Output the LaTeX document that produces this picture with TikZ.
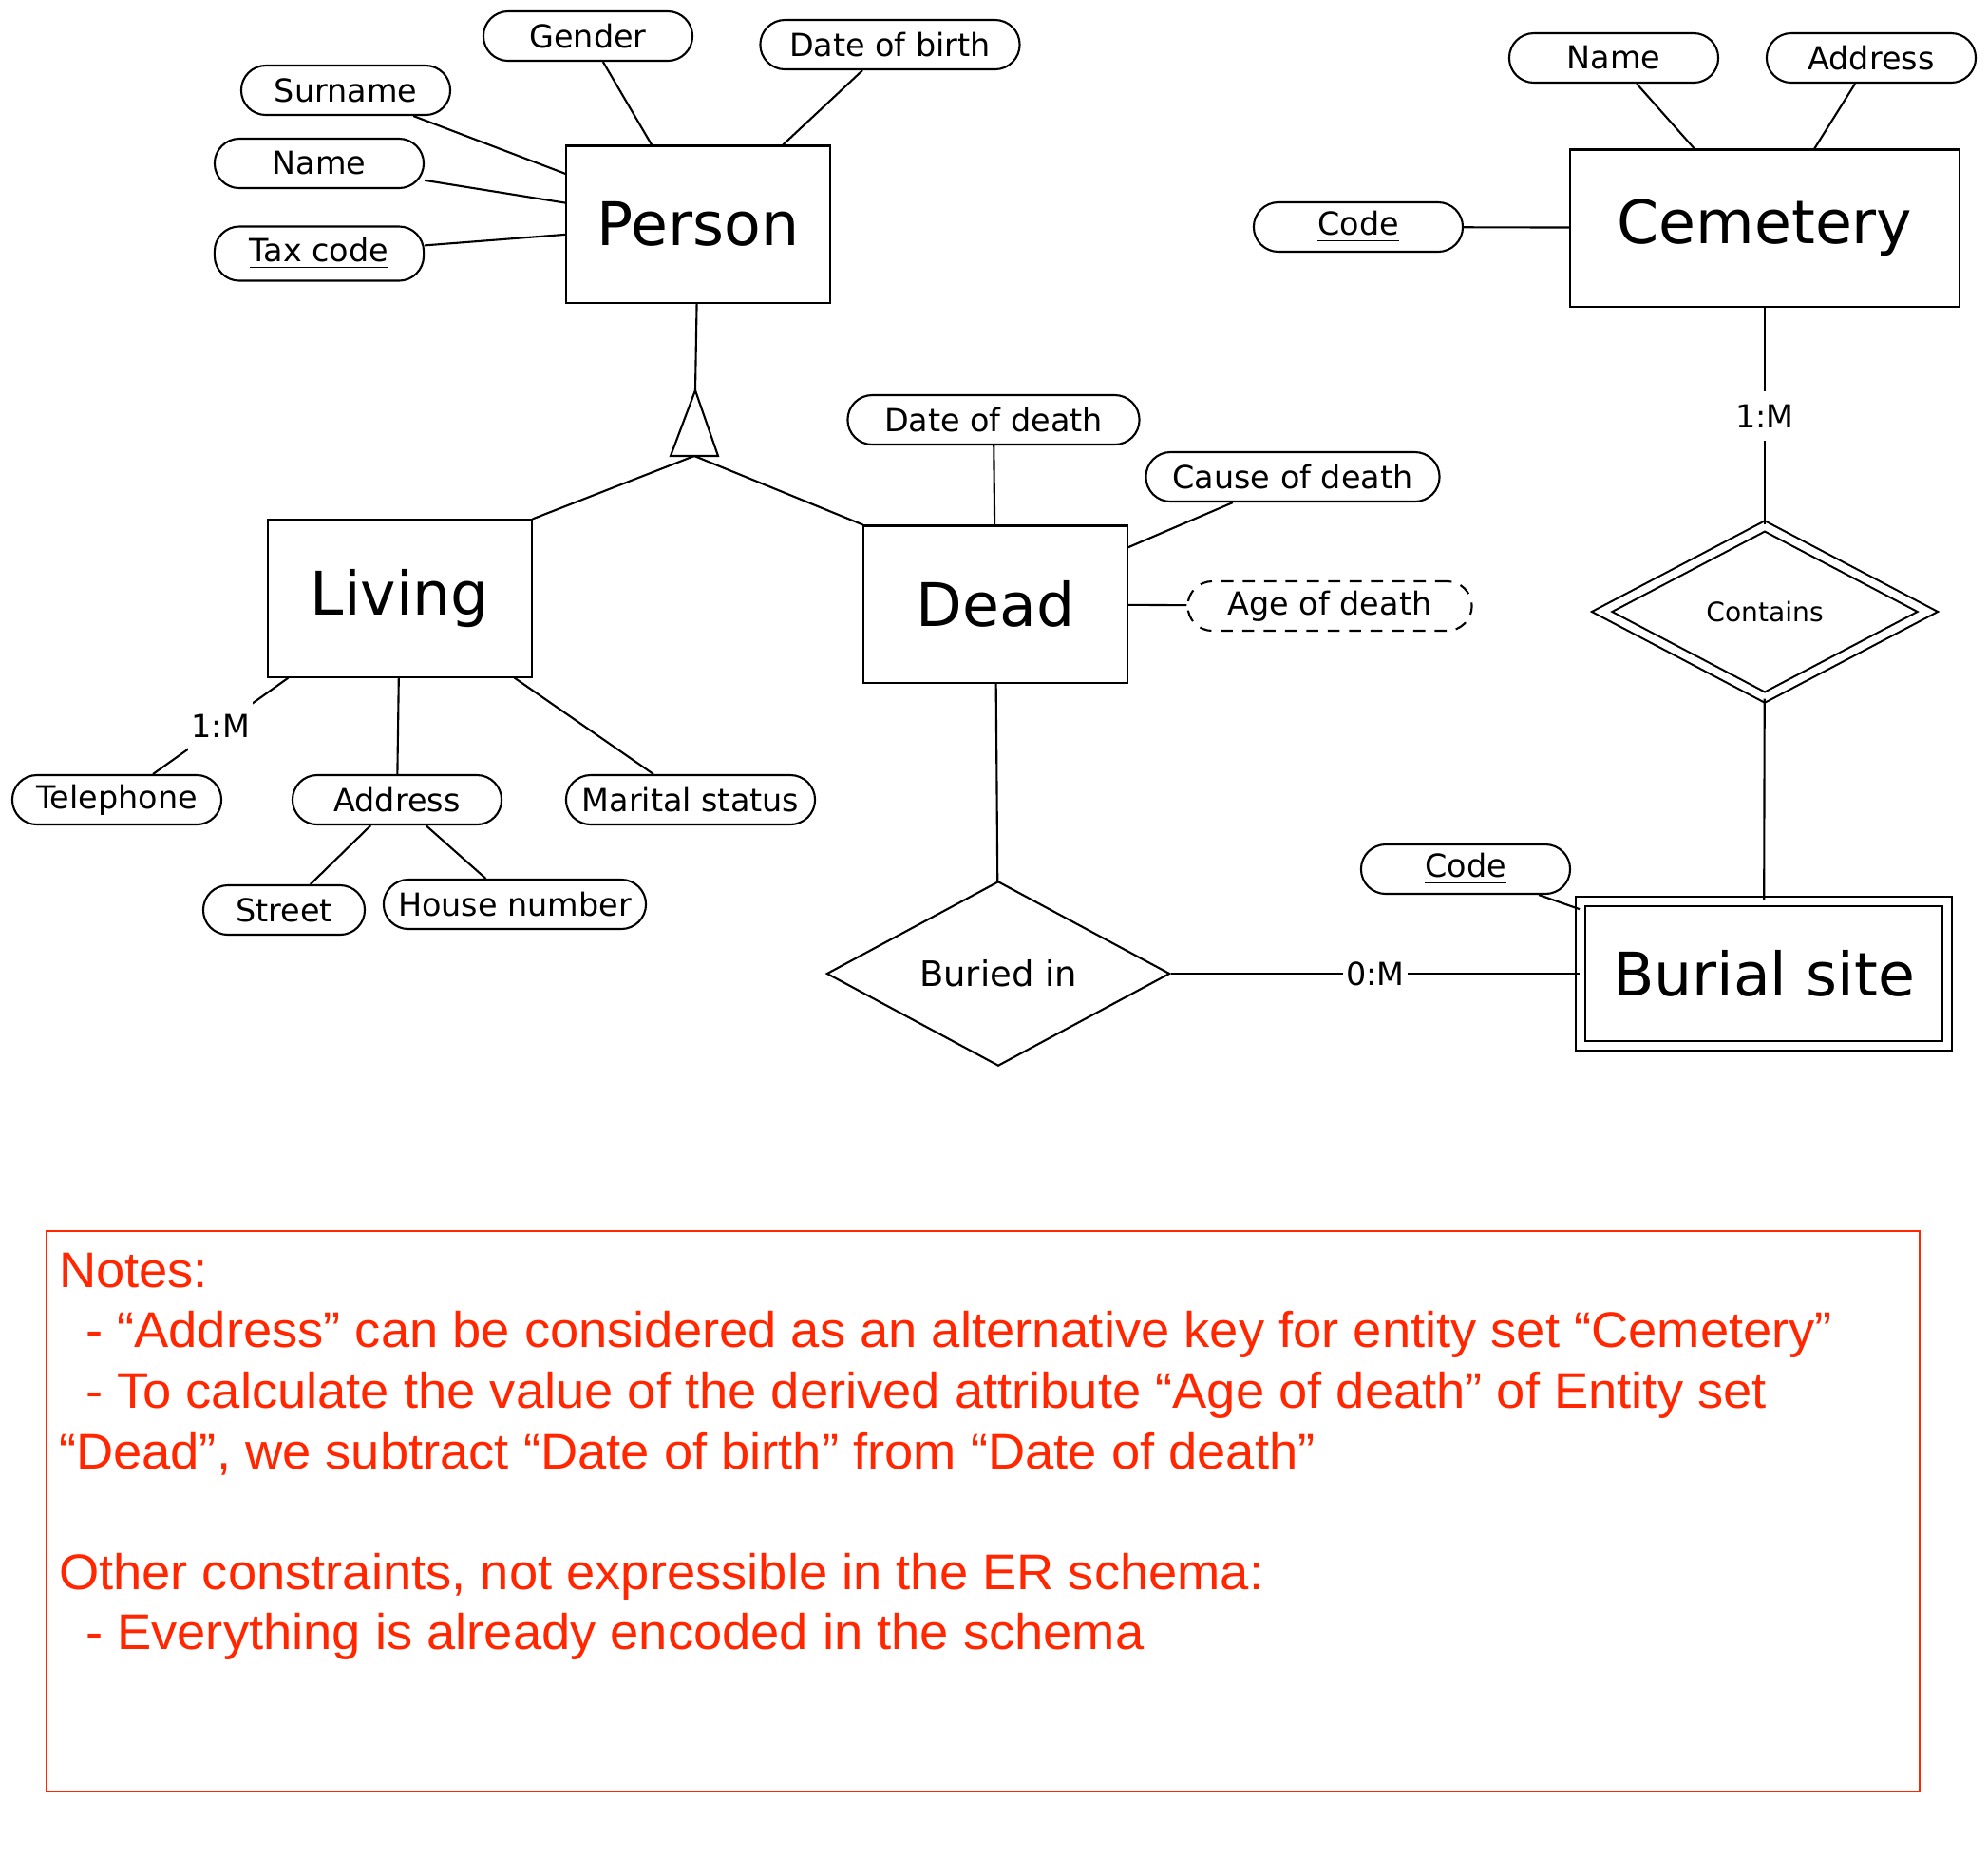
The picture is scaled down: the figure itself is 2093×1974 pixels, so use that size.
\documentclass[tikz,border=0pt]{standalone}
\usepackage{fontspec}
\setmainfont{DejaVu Sans}
\newfontfamily\notefont[FakeStretch=1.03]{Liberation Sans}
\usetikzlibrary{shapes.geometric}
\definecolor{notered}{RGB}{255,38,0}

\begin{document}
\begin{tikzpicture}[x=0.01cm, y=-0.01cm, line width=0.6pt,
  entity/.style={draw, inner sep=0pt, minimum width=2.77cm, minimum height=1.65cm, font=\fontsize{18}{22}\selectfont},
  weakentity/.style={entity, double, double distance=2.2pt, minimum width=3.855cm, minimum height=1.52cm},
  attr/.style={draw, rounded corners=0.26cm, inner sep=0pt, minimum width=2.2cm, minimum height=0.52cm, font=\fontsize{9.5}{11}\selectfont},
  derived/.style={attr, dash pattern=on 3.6pt off 2.8pt},
  relation/.style={draw, diamond, inner sep=0pt, minimum width=3.61cm, minimum height=1.91cm, font=\fontsize{10.5}{12}\selectfont},
  weakrelation/.style={relation, double, double distance=2.2pt, minimum width=3.435cm, minimum height=1.81cm, font=\fontsize{8}{10}\selectfont},
  card/.style={fill=white, inner xsep=1pt, inner ysep=4pt, font=\fontsize{9.5}{11}\selectfont},
  notetext/.style={text=notered, align=left, inner sep=0pt, font=\notefont\fontsize{15}{18.07}\selectfont}]
\useasboundingbox (0,0) rectangle (2093,1974);

\node[entity] (person) at (735,236) {Person};
\node[entity] (living) at (421,630) {Living};
\node[entity] (dead) at (1048,636) {Dead};
\node[entity, minimum width=4.09cm] (cemetery) at (1858,240) {Cemetery};
\node[weakentity] (burial) at (1857,1025) {Burial site};

\node[attr] (gender) at (619,38) {Gender};
\node[attr, minimum width=2.73cm] (birthdate) at (937,47) {Date of birth};
\node[attr] (surname) at (364,95) {Surname};
\node[attr] (name) at (336,172) {Name};
\node[attr, minimum height=0.57cm] (taxcode) at (336,267) {\underline{Tax code}};
\node[attr] (telephone) at (123,842) {Telephone};
\node[attr] (address) at (418,842) {Address};
\node[attr, minimum width=2.62cm] (marital) at (727,842) {Marital status};
\node[attr, minimum width=1.7cm] (street) at (299,958) {Street};
\node[attr, minimum width=2.76cm] (housenr) at (542,952) {House number};
\node[attr, minimum width=3.07cm] (deathdate) at (1046,442) {Date of death};
\node[attr, minimum width=3.09cm] (deathcause) at (1361,502) {Cause of death};
\node[derived, minimum width=2.99cm] (deathage) at (1400,638) {Age of death};
\node[attr] (cemname) at (1699,61) {Name};
\node[attr] (cemaddress) at (1970,61) {Address};
\node[attr] (cemcode) at (1430,239) {\underline{Code}};
\node[attr] (burialcode) at (1543,915) {\underline{Code}};

\node[weakrelation] (contains) at (1858,644) {Contains};
\node[relation] (buriedin) at (1051,1025) {Buried in};

\coordinate (isatop) at (732,411);
\coordinate (isabase) at (731,480);
\draw (706,480) -- (isatop) -- (756,480) -- cycle;

\draw (gender) -- (person);
\draw (birthdate) -- (person);
\draw (surname) -- (person);
\draw (name) -- (person);
\draw (taxcode) -- (person);
\draw (person) -- (isatop);
\draw (isabase) -- (living.north east);
\draw (isabase) -- (dead.north west);

\draw (living) -- node[card] {1:M} (telephone);
\draw (living) -- (address);
\draw (living) -- (marital);
\draw (address) -- (street);
\draw (address) -- (housenr);

\draw (dead) -- (deathdate);
\draw (dead) -- (deathcause);
\draw (dead) -- (deathage);
\draw (dead) -- (buriedin);
\draw (buriedin) -- node[card] {0:M} (burial);

\draw (cemname) -- (cemetery);
\draw (cemaddress) -- (cemetery);
\draw (cemcode) -- (cemetery);
\draw (cemetery) -- node[card] {1:M} (contains);
\draw (contains) -- (burial);
\draw (burialcode) -- (burial);

\draw[notered, line width=0.5pt] (49,1296) rectangle (2021,1886);
\node[notetext, anchor=north west] (notes) at (61,1318) {Notes:\\
\hspace*{8pt}- “Address” can be considered as an alternative key for entity set “Cemetery”\\
\hspace*{8pt}- To calculate the value of the derived attribute “Age of death” of Entity set\\
“Dead”, we subtract “Date of birth” from “Date of death”\\[18.07pt]
Other constraints, not expressible in the ER schema:\\
\hspace*{8pt}- Everything is already encoded in the schema};
\end{tikzpicture}
\end{document}
